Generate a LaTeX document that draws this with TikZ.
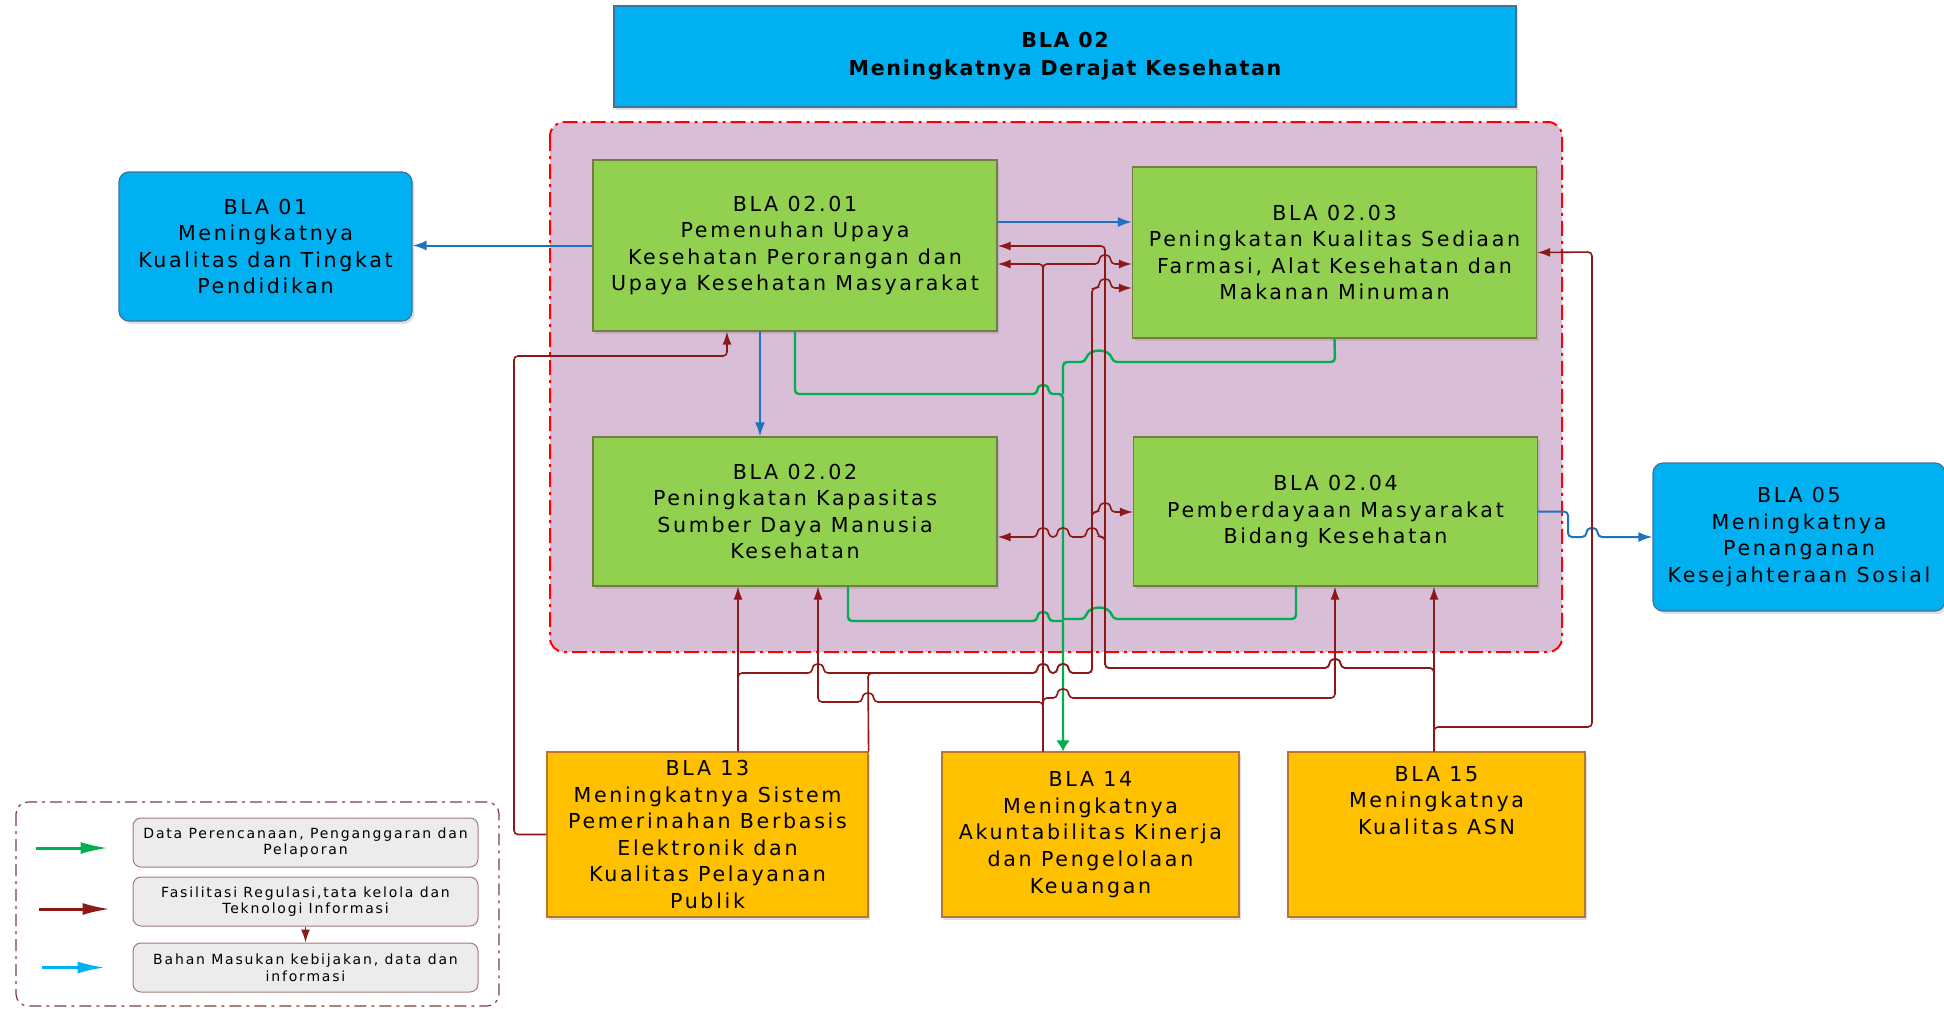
\documentclass[tikz,border=0pt]{standalone}
\usepackage{fontspec}
\setmainfont{DejaVu Sans}[LetterSpace=13,BoldFeatures={LetterSpace=8}]
\usepackage{tikz}
\usetikzlibrary{positioning,arrows.meta,shadows}
\usepackage{xcolor}
\definecolor{biru}{RGB}{0,176,240}
\definecolor{birutepi}{RGB}{65,113,156}
\definecolor{hijau}{RGB}{146,208,80}
\definecolor{hijautepi}{RGB}{118,124,70}
\definecolor{oranye}{RGB}{255,192,0}
\definecolor{oranyetepi}{RGB}{185,118,45}
\definecolor{ungu}{RGB}{216,190,215}
\definecolor{merahgaris}{RGB}{140,24,24}
\definecolor{birugaris}{RGB}{30,114,192}
\definecolor{hijaugaris}{RGB}{0,176,80}
\definecolor{abu}{RGB}{236,236,236}
\definecolor{legtepi}{RGB}{165,120,120}
\definecolor{legbingkai}{RGB}{128,60,60}

% lompatan garis (kanan, kiri, lebar ke kiri)
\newcommand{\hopr}[2]{-- (#1-6,#2) .. controls (#1-5,#2-11) and (#1+5,#2-11) .. (#1+6,#2)}
\newcommand{\hopl}[2]{-- (#1+6,#2) .. controls (#1+5,#2-11) and (#1-5,#2-11) .. (#1-6,#2)}
\newcommand{\hopwl}[2]{-- (#1+14,#2) .. controls (#1+10,#2-14) and (#1-10,#2-14) .. (#1-14,#2)}

\begin{document}
\begin{tikzpicture}[x=0.5pt, y=-0.5pt, node distance=2cm, >={Latex[length=6.5pt,width=4.5pt]}, line width=0.8pt,
    blok/.style={draw, rectangle, align=center, inner sep=1pt, line width=0.6pt, font=\fontsize{10.3}{13.3}\selectfont,
        drop shadow={shadow xshift=1.2pt, shadow yshift=-1.4pt, opacity=0.25}},
    birublok/.style={blok, fill=biru, draw=birutepi, minimum width=146.5pt, minimum height=74.5pt, rounded corners=5pt},
    hijaublok/.style={blok, fill=hijau, draw=hijautepi, minimum width=202pt, minimum height=85.5pt},
    oranyeblok/.style={blok, fill=oranye, draw=oranyetepi, minimum width=148.5pt, minimum height=82.5pt},
    legblok/.style={draw=legtepi, fill=abu, rounded corners=4pt, align=center, inner sep=1pt, line width=0.5pt,
        minimum width=172.5pt, minimum height=24.5pt, font=\fontsize{7}{8.3}\selectfont},
    merah/.style={draw=merahgaris, line width=0.8pt},
    birug/.style={draw=birugaris, line width=1pt, >={Latex[length=7pt,width=5pt]}},
    hijaug/.style={draw=hijaugaris, line width=1.2pt, >={Latex[length=5.5pt,width=7pt]}}]
    \useasboundingbox (0,0) rectangle (1944,1008);

    % Kotak latar BLA 02
    \draw[draw=red, fill=ungu, line width=1pt, rounded corners=7pt,
        dash pattern=on 7.5pt off 2.5pt on 1.5pt off 2.5pt] (550,122) rectangle (1562,652);

    % Definisi blok
    \node [birublok, rounded corners=0pt, minimum width=451pt, minimum height=50.5pt,
        font=\fontsize{10.3}{14}\selectfont\bfseries] (bla02) at (1065,56.5) {BLA 02\\Meningkatnya Derajat Kesehatan};
    \node [hijaublok] (b0201) at (795,245.5) {BLA 02.01\\Pemenuhan Upaya\\Kesehatan Perorangan dan\\Upaya Kesehatan Masyarakat};
    \node [hijaublok, right of=b0201, node distance=269.75pt, yshift=-3.5pt] (b0203) {BLA 02.03\\Peningkatan Kualitas Sediaan\\Farmasi, Alat Kesehatan dan\\Makanan Minuman};
    \node [hijaublok, minimum height=74.5pt, below of=b0201, node distance=133pt] (b0202) {BLA 02.02\\Peningkatan Kapasitas\\Sumber Daya Manusia\\Kesehatan};
    \node [hijaublok, minimum height=74.5pt, right of=b0202, node distance=270.25pt] (b0204) {BLA 02.04\\Pemberdayaan Masyarakat\\Bidang Kesehatan};
    \node [birublok, left of=b0201, node distance=264.75pt, yshift=-0.5pt] (bla01) {BLA 01\\Meningkatnya\\Kualitas dan Tingkat\\Pendidikan};
    \node [birublok, minimum width=146pt, minimum height=74pt, right of=b0204, node distance=231.75pt, yshift=-12.75pt] (bla05) {BLA 05\\Meningkatnya\\Penanganan\\Kesejahteraan Sosial};
    \node [oranyeblok, minimum width=160.5pt] (bla13) at (707.5,834.5) {BLA 13\\Meningkatnya Sistem\\Pemerinahan Berbasis\\Elektronik dan\\Kualitas Pelayanan\\Publik};
    \node [oranyeblok, right of=bla13, node distance=191.5pt] (bla14) {BLA 14\\Meningkatnya\\Akuntabilitas Kinerja\\dan Pengelolaan\\Keuangan};
    \node [oranyeblok, right of=bla14, node distance=173pt] (bla15) {BLA 15\\Meningkatnya\\Kualitas ASN\\[21pt]\mbox{}};

    % Panah biru
    \draw[birug, ->] (b0201.west) -- (b0201.west -| bla01.east);
    \draw[birug, ->] (b0201.south -| 760,0) -- (b0202.north -| 760,0);
    \draw[birug, ->] (b0201.east |- 0,222) -- (b0203.west |- 0,222);
    \draw[birug, ->, rounded corners=2pt] (b0204.east) -- (1568,511.5) -- (1568,537) \hopr{1592}{537} -- (bla05.west);

    % Panah hijau
    \draw[hijaug, ->, rounded corners=2pt] (b0201.south -| 795,0) -- (795,394) \hopr{1043}{394} -- (1063,394) -- (bla14.north -| 1063,0);
    \draw[hijaug, rounded corners=2pt] (b0203.south) -- (1335,362) \hopwl{1099}{362} -- (1063,362) -- (1063,394);
    \draw[hijaug, rounded corners=2pt] (b0202.south -| 848,0) -- (848,621) \hopr{1043}{621} -- (1063,621);
    \draw[hijaug, rounded corners=2pt] (b0204.south -| 1296,0) -- (1296,619) \hopwl{1099}{619} -- (1063,619);

    % Panah merah dari BLA 13
    \draw[merah, ->, rounded corners=2pt] (bla13.west) -- (514,834.5) -- (514,356) -- (727,356) -- (b0201.south -| 727,0);
    \draw[merah, ->] (bla13.north -| 738,0) -- (b0202.south -| 738,0);
    \draw[merah, ->, rounded corners=2pt] (bla13.north -| 738,0) -- (738,673) \hopr{818}{673} \hopr{1043}{673} \hopr{1063}{673}
        -- (1092,673) -- (1092,288) \hopr{1105}{288} -- (b0203.west |- 0,288);
    \draw[merah, ->, rounded corners=2pt] (bla13.north east) -- (868,673) \hopr{1043}{673} \hopr{1063}{673}
        -- (1092,673) -- (1092,512) \hopr{1105}{512} -- (b0204.west |- 0,512);

    % Panah merah dari BLA 14
    \draw[merah, ->, rounded corners=2pt] (bla14.north -| 1043,0) -- (1043,264) -- (b0201.east |- 0,264);
    \draw[merah, ->, rounded corners=2pt] (bla14.north -| 1043,0) -- (1043,264) \hopr{1105}{264} -- (b0203.west |- 0,264);
    \draw[merah, ->, rounded corners=2pt] (bla14.north -| 1043,0) -- (1043,702) \hopl{868}{702} -- (818,702) -- (b0202.south -| 818,0);
    \draw[merah, ->, rounded corners=2pt] (bla14.north -| 1043,0) -- (1043,698) \hopr{1063}{698} -- (1335,698) -- (b0204.south -| 1335,0);

    % Panah merah dari BLA 15
    \draw[merah, ->] (bla15.north -| 1434,0) -- (b0204.south -| 1434,0);
    \draw[merah, ->, rounded corners=2pt] (bla15.north -| 1434,0) -- (1434,668) \hopl{1335}{668} -- (1105,668)
        -- (1105,537) \hopl{1092}{537} \hopl{1063}{537} \hopl{1043}{537} -- (b0202.east |- 0,537);
    \draw[merah, ->, rounded corners=2pt] (bla15.north -| 1434,0) -- (1434,668) \hopl{1335}{668} -- (1105,668)
        -- (1105,246) -- (b0201.east |- 0,246);
    \draw[merah, ->, rounded corners=2pt] (bla15.north -| 1434,0) -- (1434,727) -- (1592,727) -- (1592,252) -- (b0203.east);

    % Keterangan
    \draw[draw=legbingkai, line width=0.6pt, rounded corners=6pt,
        dash pattern=on 6pt off 2.5pt on 1.5pt off 2.5pt] (16,802) rectangle (499,1006);
    \node [legblok] (lg1) at (305.5,842.5) {Data Perencanaan, Penganggaran dan\\Pelaporan};
    \node [legblok, below of=lg1, node distance=29.5pt] (lg2) {Fasilitasi Regulasi,tata kelola dan\\Teknologi Informasi};
    \node [legblok, below of=lg2, node distance=33pt] (lg3) {Bahan Masukan kebijakan, data dan\\informasi};
    \draw[merah, ->] (lg2) -- (lg3);
    \draw[draw=hijaugaris, line width=1.5pt, -{Latex[length=14pt,width=6pt]}] ([xshift=-48.5pt,yshift=-2.75pt]lg1.west) -- ([xshift=-12pt,yshift=-2.75pt]lg1.west);
    \draw[draw=merahgaris, line width=1.5pt, -{Latex[length=14pt,width=6pt]}] ([xshift=-47pt,yshift=-3.75pt]lg2.west) -- ([xshift=-11pt,yshift=-3.75pt]lg2.west);
    \draw[draw=biru, line width=1.5pt, -{Latex[length=14pt,width=6pt]}] ([xshift=-45.5pt]lg3.west) -- ([xshift=-13.5pt]lg3.west);
\end{tikzpicture}
\end{document}
